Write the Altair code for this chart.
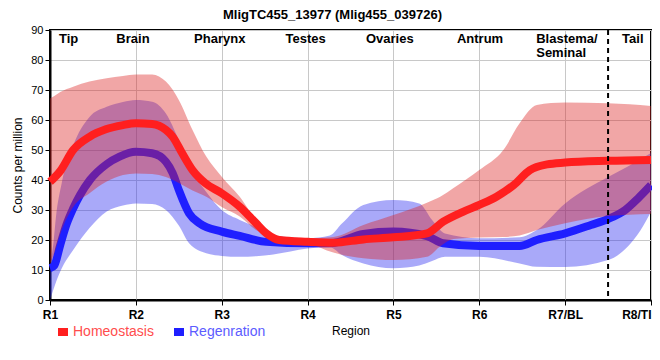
import altair as alt
import pandas as pd

TITLE = "MligTC455_13977 (Mlig455_039726)"
SERIES = ["Homeostasis", "Regenration"]
TICK_POS = [1, 2, 3, 4, 5, 6, 7, 8]
TICK_LABELS = ["R1", "R2", "R3", "R4", "R5", "R6", "R7/BL", "R8/TI"]
REGION_NAMES = ["Tip", "Brain", "Pharynx", "Testes", "Ovaries", "Antrum", "Blastema/\nSeminal", "Tail"]
REGION_X = [1.105, 1.773, 2.678, 3.744, 4.68, 5.74, 6.663, 7.663]
DIVIDER_X = [7.5]

# Homeostasis mean line
HOMEO_X = [1, 1.12, 1.27, 1.46, 1.65, 1.85, 2, 2.19, 2.35, 2.43, 2.54, 2.66, 2.81, 3, 3.21, 3.4, 3.52,
           3.67, 4, 4.3, 4.65, 5, 5.39, 5.58, 5.81, 6, 6.2, 6.4, 6.59, 6.79, 7, 7.5, 8]
HOMEO_Y = [39.4, 43, 50, 54.4, 56.9, 58.3, 58.9, 58.7, 56.7, 54.4, 48.9, 43.3, 38.9, 35.6, 31.1, 25.6, 22.2,
           20, 19.4, 19.1, 20.2, 20.9, 22.2, 26.1, 29.4, 31.7, 34.4, 38.3, 43.3, 45.2, 45.8, 46.4, 46.7]
# Homeostasis band
HOMEO_BAND_X = [1, 1.05, 1.12, 1.27, 1.46, 1.66, 1.85, 2, 2.19, 2.35, 2.5, 2.66, 2.82, 3, 3.21, 3.4, 3.6,
                4, 4.3, 4.65, 5, 5.39, 5.55, 5.7, 6, 6.28, 6.47, 6.67, 7, 7.5, 8]
HOMEO_HI = [67.2, 68, 69.3, 71.1, 72.8, 73.9, 74.7, 75.2, 75.2, 72.8, 66.7, 56.7, 47.8, 41.1, 34.4, 26.7, 21.7,
            20.6, 21, 25, 28.3, 32.4, 34.5, 37.3, 43.3, 50, 58.9, 65, 65.8, 65.6, 64.7]
HOMEO_LO = [12, 15.5, 22, 31, 35.6, 39.5, 41.7, 42.2, 42, 41, 39, 36.5, 34.4, 31, 27.8, 23.3, 20.6,
            18.9, 15.8, 13.9, 13.3, 14.4, 18, 20.3, 20.8, 21, 21.5, 23.3, 25.6, 28, 28.7]

# Regeneration mean line
REGEN_X = [1, 1.05, 1.116, 1.19, 1.27, 1.35, 1.465, 1.66, 1.81, 2, 2.19, 2.35, 2.43, 2.5, 2.62, 2.74, 3,
           3.21, 3.52, 4, 4.26, 4.65, 5, 5.39, 5.58, 6, 6.47, 6.67, 7, 7.3, 7.5, 7.7, 7.85, 8]
REGEN_Y = [10.6, 11.5, 18, 25, 30.5, 35, 40, 45.3, 47.8, 49.4, 48.9, 46.1, 42.2, 36.7, 28.9, 25.6, 22.8,
           21.4, 19.4, 18.9, 18.9, 22, 22.8, 21.3, 18.9, 18, 18, 20, 22.2, 25, 27, 30, 33.9, 38.3]
# Regeneration band
REGEN_BAND_X = [1, 1.04, 1.07, 1.136, 1.27, 1.46, 1.66, 1.85, 2, 2.19, 2.35, 2.5, 2.62, 2.82, 3, 3.21, 3.4,
                3.6, 4, 4.26, 4.4, 4.65, 5, 5.3, 5.45, 5.6, 6, 6.47, 6.67, 7, 7.5, 7.73, 7.88, 8]
REGEN_HI = [11.5, 19, 27.8, 38.9, 51.5, 61, 64.4, 66, 66.7, 66.1, 62.2, 53.3, 45, 36, 30, 26.7, 24.4,
            21.7, 20.6, 21.5, 25.5, 31.7, 33.3, 32.2, 26.7, 22.2, 20.6, 20.9, 23.3, 32.2, 41, 44.5, 47, 49]
REGEN_LO = [0, 3.5, 6, 10.5, 16.7, 24, 29.5, 31.5, 32.2, 32, 30, 24.8, 18.9, 15.6, 14.7, 14.4, 14.6,
            15.2, 17.2, 17.6, 15, 12.2, 10.6, 11.5, 13, 14.4, 14.4, 12.2, 11.1, 11, 13.3, 17.8, 23.3, 29.4]

LINE_COLORS = ["#ff1f1f", "#1f1fff"]

homeo_line = pd.DataFrame({"x": HOMEO_X, "y": HOMEO_Y, "series": SERIES[0]})
regen_line = pd.DataFrame({"x": REGEN_X, "y": REGEN_Y, "series": SERIES[1]})
homeo_band = pd.DataFrame({"x": HOMEO_BAND_X, "hi": HOMEO_HI, "lo": HOMEO_LO})
regen_band = pd.DataFrame({"x": REGEN_BAND_X, "hi": REGEN_HI, "lo": REGEN_LO})
regions = pd.DataFrame({"x": REGION_X, "name": REGION_NAMES})
divider = pd.DataFrame({"x": DIVIDER_X})

label_arr = "[" + ",".join(f"'{t}'" for t in TICK_LABELS) + "]"

x_axis = alt.Axis(values=TICK_POS, labelExpr=f"{label_arr}[datum.value - 1]", title="Region",
                  labelFontWeight="bold", labelFontSize=12, labelPadding=4, tickSize=5,
                  labelFlush=False, labelOverlap=False, labelBound=False,
                  labelAlign=alt.ExprRef(expr=f"datum.value == {TICK_POS[-1]} ? 'right' : 'center'"),
                  titleFontWeight="normal", titleFontSize=12, titlePadding=5,
                  gridColor="#c8c8c8", domainColor="black", domainWidth=2, tickColor="black",
                  labelColor="black", titleColor="black")
y_axis = alt.Axis(values=list(range(0, 91, 10)), title="Counts per million",
                  labelFontSize=11, labelPadding=2, tickSize=5, titleFontSize=12,
                  titleFontWeight="normal", titlePadding=6, gridColor="#c8c8c8",
                  domainColor="black", domainWidth=2, tickColor="black",
                  labelColor="black", titleColor="black")

x_scale = alt.Scale(domain=[1, 8], nice=False, zero=False)
y_scale = alt.Scale(domain=[0, 90], nice=False)

X = alt.X("x:Q", scale=x_scale, axis=x_axis)

legend = alt.Legend(orient="none", legendX=4, legendY=293, direction="horizontal", title=None,
                    symbolType="M-1,0H1", symbolStrokeWidth=8, symbolSize=100, symbolOpacity=1,
                    labelFont="Liberation Sans", labelFontSize=14, labelOffset=1, columnPadding=4,
                    labelColor=alt.ExprRef(expr="datum.label == 'Homeostasis' ? '#ff4d4d' : '#5c5cff'"))
color = alt.Color("series:N", scale=alt.Scale(domain=SERIES, range=LINE_COLORS), legend=legend)

regen_band_layer = alt.Chart(regen_band).mark_area(color="#2828f0", opacity=0.4, interpolate="monotone").encode(
    x=X, y=alt.Y("hi:Q", scale=y_scale, axis=y_axis), y2="lo:Q")
regen_line_layer = alt.Chart(regen_line).mark_line(strokeWidth=8, interpolate="monotone").encode(
    x=X, y=alt.Y("y:Q", scale=y_scale, axis=y_axis), color=color)
homeo_band_layer = alt.Chart(homeo_band).mark_area(color="#dc2020", opacity=0.4, interpolate="monotone").encode(
    x=X, y=alt.Y("hi:Q", scale=y_scale, axis=y_axis), y2="lo:Q")
homeo_line_layer = alt.Chart(homeo_line).mark_line(strokeWidth=8, interpolate="monotone").encode(
    x=X, y=alt.Y("y:Q", scale=y_scale, axis=y_axis), color=color)
divider_layer = alt.Chart(divider).mark_rule(color="black", strokeWidth=2, strokeDash=[5, 4]).encode(x=X)
region_layer = alt.Chart(regions).mark_text(align="left", baseline="top", fontWeight="bold", fontSize=13,
                                            lineBreak="\n", lineHeight=14, color="black",
                                            font="Liberation Sans").encode(
    x=X, y=alt.value(3), text="name:N")

chart = alt.layer(regen_band_layer, regen_line_layer, homeo_band_layer, homeo_line_layer,
                  divider_layer, region_layer).properties(
    width=601, height=270,
    title=alt.Title(TITLE, fontSize=13, fontWeight="bold", anchor="middle", frame="group", dx=-18, offset=2,
                    font="Liberation Sans", color="black"),
    autosize=alt.AutoSizeParams(type="none"),
    padding={"left": 42, "top": 22, "right": 1, "bottom": 52},
).configure(font="Liberation Sans").configure_view(stroke="black", strokeWidth=2)

chart.save("out.html", embed_options={"renderer": "svg", "actions": False})
